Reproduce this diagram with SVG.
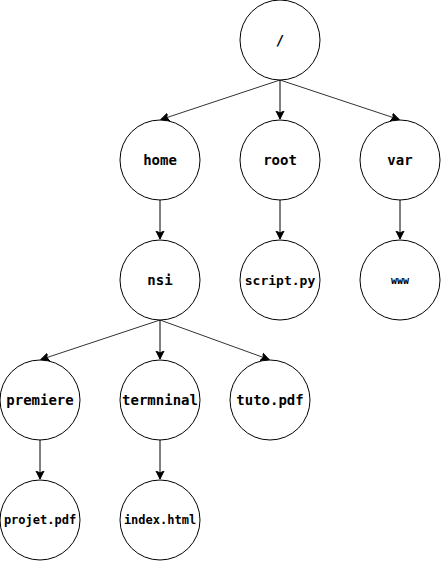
<svg xmlns="http://www.w3.org/2000/svg" width="441" height="561" viewBox="0 0 441 561">
<defs>
<marker id="arr" markerWidth="10" markerHeight="10" refX="8" refY="5" orient="auto" markerUnits="userSpaceOnUse">
<path d="M0,1 L8,5 L0,9 L2,5 Z" fill="#000" stroke="#000" stroke-width="1"/>
</marker>
<style>
.n{fill:#fff;stroke:#000;stroke-width:1}
.t{font-family:"DejaVu Sans Mono","Liberation Mono",monospace;font-weight:bold;font-size:14px;text-anchor:middle;dominant-baseline:central;fill:#000}
.c{stroke:#000;stroke-width:1;fill:none;marker-end:url(#arr)}
.d{stroke:#333}
</style>
</defs>
<rect width="441" height="561" fill="#fff"/>
<g id="connectors">
<line class="c d" x1="280" y1="80" x2="161" y2="119.5"/>
<line class="c" x1="280" y1="80" x2="280" y2="119"/>
<line class="c d" x1="280" y1="80" x2="399" y2="119.5"/>
<line class="c" x1="160" y1="200" x2="160" y2="239"/>
<line class="c" x1="280" y1="200" x2="280" y2="239"/>
<line class="c" x1="400" y1="200" x2="400" y2="239"/>
<line class="c d" x1="160" y1="320" x2="41" y2="359.5"/>
<line class="c" x1="160" y1="320" x2="160" y2="359"/>
<line class="c d" x1="160" y1="320" x2="269" y2="359.5"/>
<line class="c" x1="40" y1="440" x2="40" y2="479"/>
<line class="c" x1="160" y1="440" x2="160" y2="479"/>
</g>
<g id="n-root-dir"><circle class="n" cx="280" cy="40" r="40"/><text class="t" x="280" y="40">/</text></g>
<g id="n-home"><circle class="n" cx="160" cy="160" r="40"/><text class="t" x="160" y="160">home</text></g>
<g id="n-root"><circle class="n" cx="280" cy="160" r="40"/><text class="t" x="280" y="160">root</text></g>
<g id="n-var"><circle class="n" cx="400" cy="160" r="40"/><text class="t" x="400" y="160">var</text></g>
<g id="n-nsi"><circle class="n" cx="160" cy="280" r="40"/><text class="t" x="160" y="280">nsi</text></g>
<g id="n-script"><circle class="n" cx="280" cy="280" r="40"/><text class="t" x="280" y="280" style="font-size:13px">script.py</text></g>
<g id="n-www"><circle class="n" cx="400" cy="280" r="40"/><text class="t" x="400" y="280" style="font-size:10px">www</text></g>
<g id="n-premiere"><circle class="n" cx="40" cy="400" r="40"/><text class="t" x="40" y="400">premiere</text></g>
<g id="n-termninal"><circle class="n" cx="160" cy="400" r="40"/><text class="t" x="160" y="400">termninal</text></g>
<g id="n-tuto"><circle class="n" cx="270" cy="400" r="40"/><text class="t" x="270" y="400">tuto.pdf</text></g>
<g id="n-projet"><circle class="n" cx="40" cy="520" r="40"/><text class="t" x="40" y="520" style="font-size:12px">projet.pdf</text></g>
<g id="n-index"><circle class="n" cx="160" cy="520" r="40"/><text class="t" x="160" y="520" style="font-size:12px">index.html</text></g>
</svg>
